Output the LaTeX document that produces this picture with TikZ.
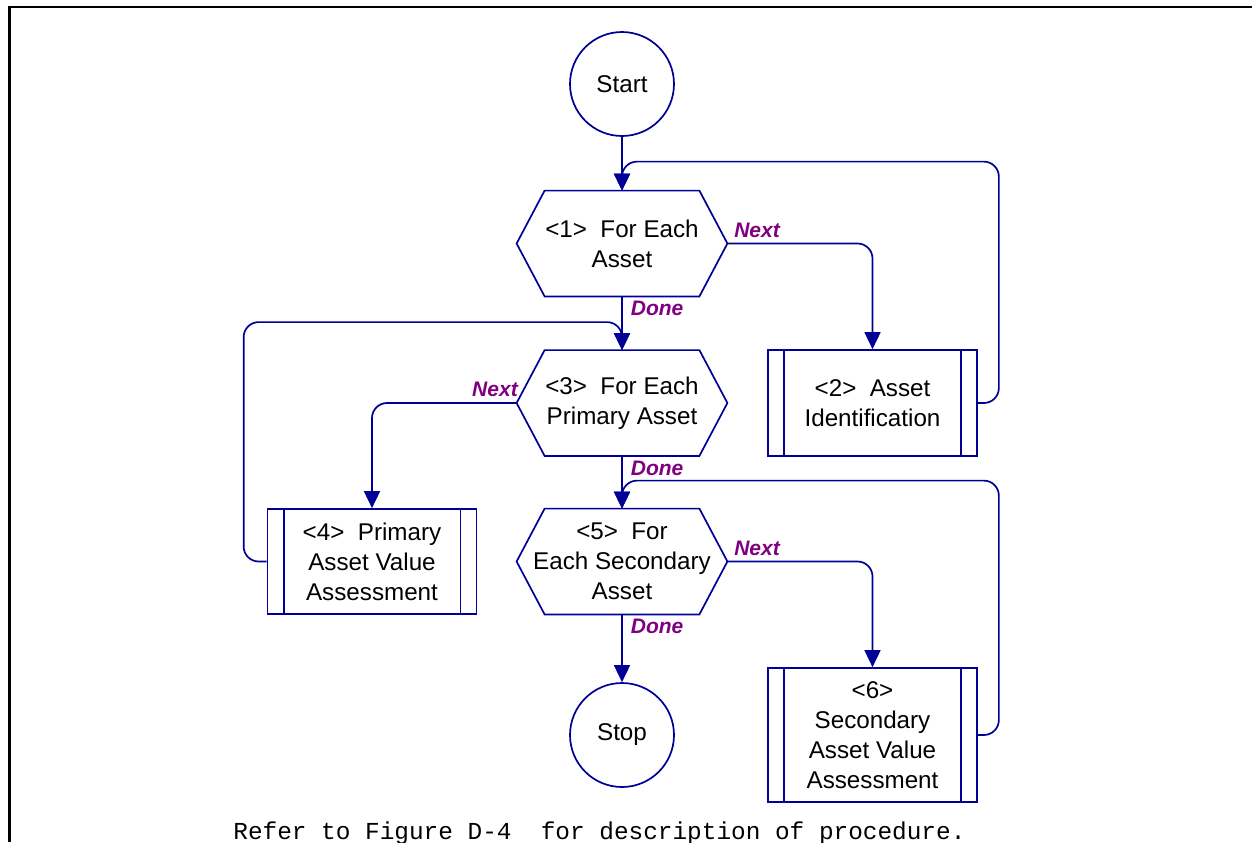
\documentclass[tikz,border=0pt]{standalone}
\usepackage{fontspec}
\setmainfont{Liberation Sans}
\newfontfamily\capfont{Liberation Mono}
\usepackage{tikz}
\usetikzlibrary{arrows.meta, positioning, calc}
\definecolor{Navy}{HTML}{000096}
\definecolor{Plum}{HTML}{800080}

\begin{document}
\begin{tikzpicture}[
  x=0.5pt, y=-0.5pt,
  font=\fontsize{12.1}{15}\selectfont,
  term/.style={circle, draw=Navy, line width=0.85pt, minimum size=52pt, inner sep=0pt},
  loopnode/.style={rectangle, minimum width=77pt, minimum height=52.5pt, inner sep=0pt, align=center},
  proc/.style={rectangle, draw=Navy, line width=0.85pt, minimum width=104.5pt, inner sep=0pt, align=center},
  wire/.style={draw=Navy, line width=0.85pt},
  arrow/.style={wire, -{Triangle[length=8.5pt, width=8pt]}},
  back/.style={arrow, rounded corners=7.5pt},
  tag/.style={text=Plum, font=\fontsize{10.5}{12}\selectfont\bfseries\itshape, inner sep=1pt}
]
\useasboundingbox (0,0) rectangle (1252,842);
\draw[line width=1.2pt] (1252,7) -- (9.5,7) -- (9.5,842);

\node[term] (start) at (622,84) {Start};
\node[loopnode] (h1) at (622,243.5) {<1>~~For Each\\Asset};
\node[proc, minimum height=53pt] (b2) at (872.5,403) {<2>~~Asset\\Identification};
\node[loopnode] (h3) at (622,403) {<3>~~For Each\\Primary Asset};
\node[proc, minimum height=52.5pt] (b4) at (372,561.5) {<4>~~Primary\\Asset Value\\Assessment};
\node[loopnode] (h5) at (622,561.5) {<5>~~For\\\makebox[0pt]{Each Secondary}\\Asset};
\node[proc, minimum height=67pt] (b6) at (872.5,735) {<6>\\Secondary\\Asset Value\\Assessment};
\node[term] (stop) at (622,735) {Stop};

% hexagon outlines
\foreach \h in {h1, h3, h5}
  \draw[wire] (\h.north west) -- (\h.north east) -- ([xshift=14pt]\h.east) -- (\h.south east) -- (\h.south west) -- ([xshift=-14pt]\h.west) -- cycle;
% side bars of the process boxes
\foreach \b in {b2, b4, b6} {
  \draw[wire] ([xshift=8.5pt]\b.north west) -- ([xshift=8.5pt]\b.south west);
  \draw[wire] ([xshift=-8.5pt]\b.north east) -- ([xshift=-8.5pt]\b.south east);
}

\draw[arrow] (start) -- (h1);
\draw[arrow] (h1) -- node[tag, pos=0, anchor=north west, xshift=3pt, yshift=-1pt] {Done} (h3);
\draw[arrow] (h3) -- node[tag, pos=0, anchor=north west, xshift=3pt, yshift=-1pt] {Done} (h5);
\draw[arrow] (h5) -- node[tag, pos=0, anchor=north west, xshift=3pt, yshift=-1pt] {Done} (stop);

\draw[back] ([xshift=14pt]h1.east) -| node[tag, pos=0, anchor=south west, xshift=2pt, yshift=1.5pt] {Next} (b2);
\draw[back] ([xshift=-14pt]h3.west) -| node[tag, pos=0, anchor=south east, xshift=2pt, yshift=1.5pt] {Next} (b4);
\draw[back] ([xshift=14pt]h5.east) -| node[tag, pos=0, anchor=south west, xshift=2pt, yshift=1.5pt] {Next} (b6);

\draw[back] (b2.east) -- ++(10.5pt,0) |- ([yshift=14.5pt]h1.north) -- (h1.north);
\draw[back] (b4.west) -- ++(-11.5pt,0) |- ([yshift=14pt]h3.north) -- (h3.north);
\draw[back] (b6.east) -- ++(10.5pt,0) |- ([yshift=14pt]h5.north) -- (h5.north);

\node[font=\capfont\fontsize{12.2}{14}\selectfont, anchor=base west, inner sep=0pt] (caption) at (233,839) {Refer to Figure D-4~~for description of procedure.};
\end{tikzpicture}
\end{document}
